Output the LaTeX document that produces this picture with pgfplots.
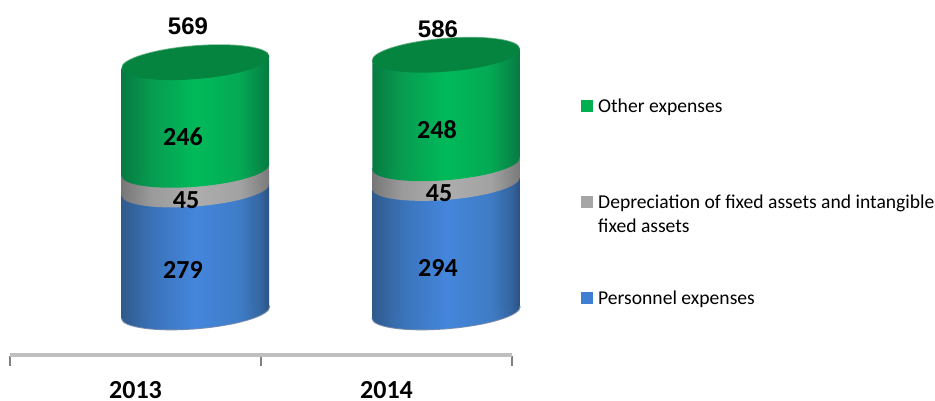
\documentclass[border=0pt]{standalone}
\usepackage{pgfplots}
\pgfplotsset{compat=1.18}
\usepackage{fontspec}
\setmainfont{Carlito}
\newfontfamily\arialb{Liberation Sans}
\definecolor{lgreen}{HTML}{00B050}
\definecolor{lgray}{HTML}{A6A6A6}
\definecolor{lblue}{HTML}{3F7FD2}
\definecolor{capgreen}{HTML}{04843F}
\definecolor{rimgreen}{HTML}{6DB58A}
\definecolor{rimblue}{HTML}{7E8FAB}
\definecolor{ba}{HTML}{2F5A8C}\definecolor{bb}{HTML}{3A72B8}\definecolor{bc}{HTML}{4486DC}\definecolor{bd}{HTML}{3F7CC6}\definecolor{be}{HTML}{34659F}\definecolor{bf}{HTML}{2A5283}
\definecolor{ga}{HTML}{777777}\definecolor{gb}{HTML}{9A9A9A}\definecolor{gc}{HTML}{ADADAD}\definecolor{gd}{HTML}{A2A2A2}\definecolor{ge}{HTML}{7A7A7A}
\definecolor{na}{HTML}{077A42}\definecolor{nb}{HTML}{079C50}\definecolor{nc}{HTML}{00BA5A}\definecolor{nd}{HTML}{04A954}
\pgfdeclarehorizontalshading{cylblue}{100bp}{color(0bp)=(ba); color(25bp)=(ba); color(35bp)=(bb); color(50bp)=(bc); color(65bp)=(bd); color(72bp)=(be); color(75bp)=(bf); color(100bp)=(bf)}
\pgfdeclarehorizontalshading{cylgray}{100bp}{color(0bp)=(ga); color(25bp)=(ga); color(35bp)=(gb); color(50bp)=(gc); color(65bp)=(gd); color(75bp)=(ge); color(100bp)=(ge)}
\pgfdeclarehorizontalshading{cylgreen}{100bp}{color(0bp)=(na); color(25bp)=(na); color(35bp)=(nb); color(50bp)=(nc); color(65bp)=(nd); color(75bp)=(na); color(100bp)=(na)}
\newcommand{\capell}[3]{\path[shade,shading=#1,shift={(axis cs:#2,#3)},rotate=4.65] (0pt,0pt) ellipse [x radius=74pt,y radius=16.5pt];}
\newcommand{\flatell}[5]{\fill[#1,shift={(axis cs:#2,#3)},rotate=4.65] (0pt,#5) ellipse [x radius=#4,y radius=16.5pt];}
\newcommand{\lbl}[3]{\node[inner sep=0pt,font=\fontsize{26}{26}\selectfont\bfseries] at (axis cs:#1,#2) {#3};}
\newcommand{\ttl}[3]{\node[inner sep=0pt,font=\arialb\fontsize{24}{24}\selectfont\bfseries] at (axis cs:#1,#2) {#3};}
\newcommand{\legsq}[2]{\fill[#1] (581pt,{400pt-#2pt}) rectangle (593pt,{412pt-#2pt});}
\newcommand{\legtx}[2]{\node[anchor=base west,inner sep=0pt,font=\fontsize{19.6}{24}\selectfont] at (598pt,{400pt-#1pt}) {#2};}
\pgfplotsset{common/.style={
  scale only axis,width=502pt,height=355pt,at={(10pt,45pt)},anchor=south west,
  xmin=-0.5,xmax=1.5,ymin=-98.3,ymax=713,clip=false}}
\begin{document}
\begin{tikzpicture}
\useasboundingbox (0pt,0pt) rectangle (935pt,400pt);
\begin{axis}[common,
  ybar stacked,bar width=130pt,
  axis y line=none,axis x line=bottom,
  x axis line style={draw=black!25,line width=3.5pt,-},
  xtick={0,1},xticklabels={2013,2014},major tick length=0pt,
  minor xtick={-0.5,0.5,1.5},minor tick length=10pt,tick align=outside,
  minor x tick style={draw=black!50,line width=1.2pt,yshift=-1pt},
  xticklabel style={font=\fontsize{26}{26}\selectfont\bfseries,inner sep=0pt,text height=17pt,text depth=0pt,yshift=-26pt},
]
\addplot[fill=lblue,draw=none] coordinates {(0.239,279) (1.237,294)};
\addplot[fill=lgray,draw=none] coordinates {(0.239,45) (1.237,45)};
\addplot[fill=lgreen,draw=none] coordinates {(0.239,246) (1.237,248)};
\end{axis}
\begin{axis}[common,hide axis]
% 2013 cylinder
\flatell{rimblue}{0.239}{0}{74.8pt}{-0.8pt}
\capell{cylblue}{0.239}{0}
\addplot[shade,shading=cylblue,draw=none] coordinates {(-0.0548,-13.7) (0.5328,13.7) (0.5328,292.7) (-0.0548,265.3)} --cycle;
\capell{cylgray}{0.239}{279}
\addplot[shade,shading=cylgray,draw=none] coordinates {(-0.0548,265.3) (0.5328,292.7) (0.5328,337.7) (-0.0548,310.3)} --cycle;
\capell{cylgreen}{0.239}{324}
\addplot[shade,shading=cylgreen,draw=none] coordinates {(-0.0548,310.3) (0.5328,337.7) (0.5328,583.7) (-0.0548,556.3)} --cycle;
\flatell{rimgreen}{0.239}{570}{74.3pt}{0.8pt}
\flatell{capgreen}{0.239}{570}{74pt}{0pt}
% 2014 cylinder
\flatell{rimblue}{1.237}{0}{74.8pt}{-0.8pt}
\capell{cylblue}{1.237}{0}
\addplot[shade,shading=cylblue,draw=none] coordinates {(0.9433,-13.7) (1.5309,13.7) (1.5309,307.7) (0.9433,280.3)} --cycle;
\capell{cylgray}{1.237}{294}
\addplot[shade,shading=cylgray,draw=none] coordinates {(0.9433,280.3) (1.5309,307.7) (1.5309,352.7) (0.9433,325.3)} --cycle;
\capell{cylgreen}{1.237}{339}
\addplot[shade,shading=cylgreen,draw=none] coordinates {(0.9433,325.3) (1.5309,352.7) (1.5309,600.7) (0.9433,573.3)} --cycle;
\flatell{rimgreen}{1.237}{587}{74.3pt}{0.8pt}
\flatell{capgreen}{1.237}{587}{74pt}{0pt}
% labels
\lbl{0.1892}{96}{279}
\lbl{0.2012}{256}{45}
\lbl{0.1892}{400}{246}
\lbl{1.2052}{100.5}{294}
\lbl{1.2092}{272}{45}
\lbl{1.2012}{416}{248}
\ttl{0.2092}{653.6}{569}
\ttl{1.2052}{646.7}{586}
\end{axis}
\legsq{lgreen}{112}
\legtx{112}{Other expenses}
\legsq{lgray}{208}
\legtx{208}{Depreciation of fixed assets and intangible}
\legtx{232}{fixed assets}
\legsq{lblue}{304}
\legtx{304}{Personnel expenses}
\end{tikzpicture}
\end{document}
